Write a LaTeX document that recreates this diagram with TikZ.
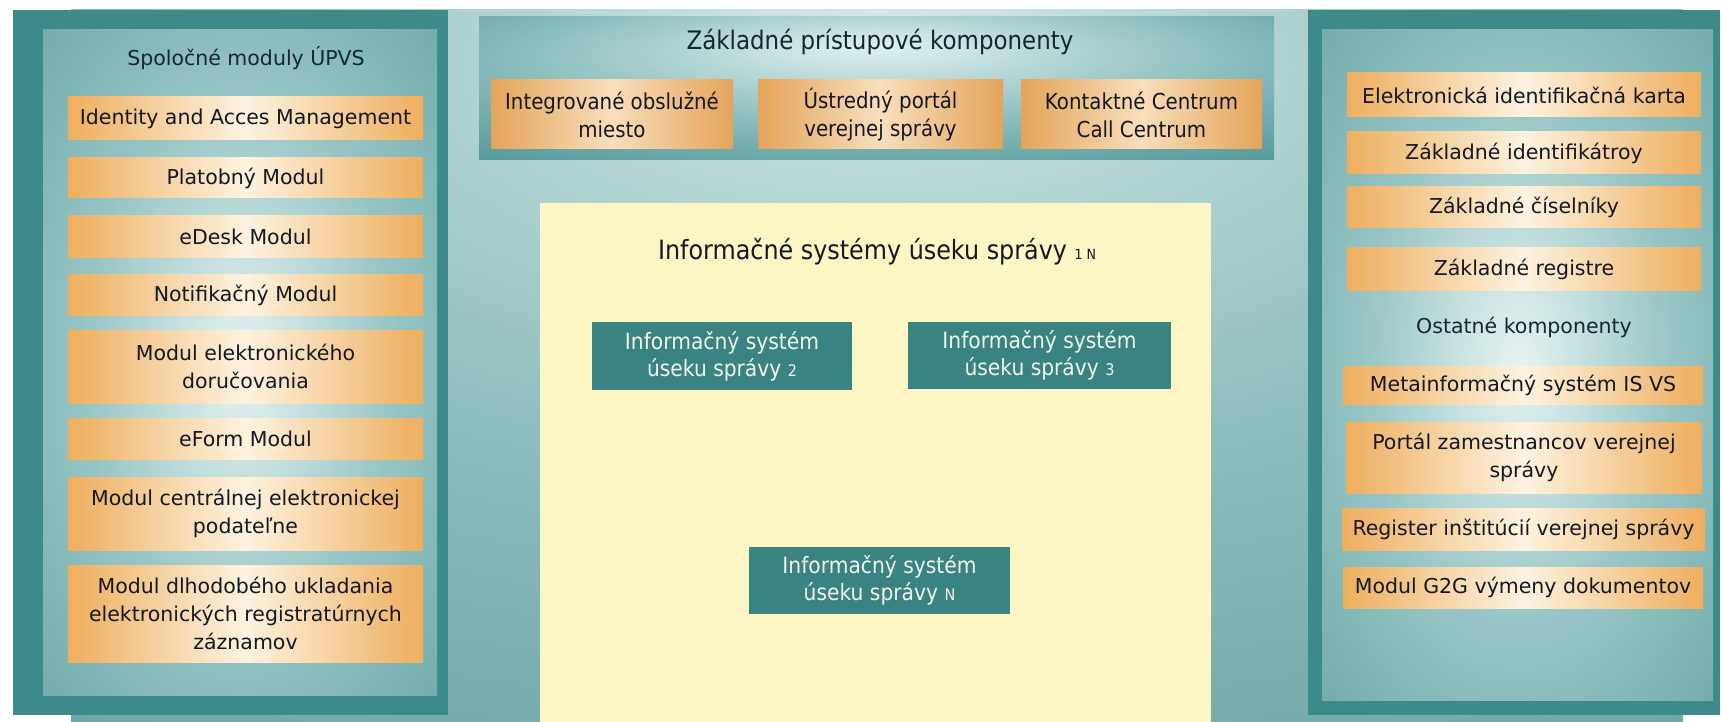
\documentclass[tikz,border=0pt]{standalone}
\usepackage{fontspec}
\setmainfont{DejaVu Sans}
\newfontfamily\condfont[FakeStretch=0.9]{DejaVu Sans}
\definecolor{outerteal}{RGB}{60,138,138}
\definecolor{paneledge}{RGB}{84,150,150}
\definecolor{panelmid}{RGB}{150,196,196}
\definecolor{glowc}{RGB}{232,243,243}
\definecolor{bgedge}{RGB}{88,150,150}
\definecolor{bgmid}{RGB}{140,188,188}
\definecolor{bgglowc}{RGB}{212,232,232}
\definecolor{topedge}{RGB}{58,134,134}
\definecolor{topmid}{RGB}{140,190,190}
\definecolor{topglow}{RGB}{225,240,240}
\definecolor{orangeE}{RGB}{238,174,94}
\definecolor{creamC}{RGB}{253,243,224}
\definecolor{tanE}{RGB}{228,164,90}
\definecolor{tanC}{RGB}{248,222,188}
\definecolor{yellowbg}{RGB}{251,246,196}
\definecolor{isteal}{RGB}{58,131,131}
\definecolor{textdark}{RGB}{20,24,34}
\definecolor{titledark}{RGB}{22,38,50}
\definecolor{istext}{RGB}{240,245,232}
\pgfdeclareradialshading{panelglow}{\pgfpoint{0bp}{0bp}}{color(0bp)=(glowc); color(20bp)=(panelmid); color(50bp)=(paneledge); color(75bp)=(paneledge)}
\pgfdeclareradialshading{bgglow}{\pgfpoint{0bp}{25bp}}{color(0bp)=(bgglowc); color(25bp)=(bgmid); color(60bp)=(bgedge); color(80bp)=(bgedge)}
\pgfdeclareradialshading{topglowsh}{\pgfpoint{0bp}{15bp}}{color(0bp)=(topglow); color(22bp)=(topmid); color(50bp)=(topedge); color(75bp)=(topedge)}
\newcommand\sidefs{\fontsize{20.5}{28}\selectfont}
\newcommand\toptitlefs{\condfont\fontsize{25.5}{30}\selectfont}
\newcommand\topboxfs{\condfont\fontsize{22}{28}\selectfont}
\newcommand\isfs{\condfont\fontsize{22.5}{27}\selectfont}
\newcommand\ysmall{\fontsize{14}{14}\selectfont}
\newcommand\issmall{\fontsize{16}{16}\selectfont}
\tikzset{
  obox/.style={inner sep=0pt, align=center, text=textdark, font=\sidefs,
    left color=orangeE, right color=orangeE, middle color=creamC},
  tbox/.style={inner sep=0pt, align=center, text=textdark, font=\topboxfs,
    left color=tanE, right color=tanE, middle color=tanC},
  isbox/.style={inner sep=0pt, align=center, text=istext, font=\isfs, fill=isteal},
  paneltitle/.style={inner sep=0pt, text=titledark, font=\sidefs},
}
\begin{document}
\begin{tikzpicture}[x=1pt,y=-1pt]
\useasboundingbox (0,0) rectangle (1722,722);
\fill[white] (0,0) rectangle (1722,722);
% background
\fill[shading=bgglow] (71,10) rectangle (1683,722);
% left panel
\fill[outerteal] (13,10) rectangle (448,715);
\fill[shading=panelglow] (43,30) rectangle (437,695);
% right panel
\fill[outerteal] (1308,10) rectangle (1720,715);
\fill[shading=panelglow] (1322,30) rectangle (1713,700);
% top panel
\fill[shading=topglowsh] (479,17) rectangle (1274,160);
% yellow area
\fill[yellowbg] (540,203) rectangle (1211,722);

% left panel content
\node[paneltitle] (ltitle) at (246,58) {Spoločné moduly ÚPVS};
\node[obox, minimum width=355pt, minimum height=43pt] (iam) at (245.5,118.5) {Identity and Acces Management};
\node[obox, minimum width=355pt, minimum height=40pt] (plat) at (245.5,178) {Platobný Modul};
\node[obox, minimum width=355pt, minimum height=42pt] (edesk) at (245.5,237) {eDesk Modul};
\node[obox, minimum width=355pt, minimum height=40pt] (notif) at (245.5,295) {Notifikačný Modul};
\node[obox, minimum width=355pt, minimum height=73pt] (eldor) at (245.5,366.5) {Modul elektronického\\doručovania};
\node[obox, minimum width=355pt, minimum height=41pt] (eform) at (245.5,438.5) {eForm Modul};
\node[obox, minimum width=355pt, minimum height=73pt] (central) at (245.5,513.5) {Modul centrálnej elektronickej\\podateľne};
\node[obox, minimum width=355pt, minimum height=97pt] (dlho) at (245.5,613.5) {Modul dlhodobého ukladania\\elektronických registratúrnych\\záznamov};

% right panel content
\node[obox, minimum width=354pt, minimum height=44pt] (eik) at (1524,95) {Elektronická identifikačná karta};
\node[obox, minimum width=354pt, minimum height=42pt] (zid) at (1524,153) {Základné identifikátroy};
\node[obox, minimum width=354pt, minimum height=41pt] (zcis) at (1524,207.5) {Základné číselníky};
\node[obox, minimum width=354pt, minimum height=42pt] (zreg) at (1524,269) {Základné registre};
\node[paneltitle] (ostatne) at (1524,327) {Ostatné komponenty};
\node[obox, minimum width=360pt, minimum height=38pt] (meta) at (1523,385) {Metainformačný systém IS VS};
\node[obox, minimum width=356pt, minimum height=71pt] (portal) at (1524,457.5) {Portál zamestnancov verejnej\\správy};
\node[obox, minimum width=362pt, minimum height=42pt] (reg) at (1523.5,529) {Register inštitúcií verejnej správy};
\node[obox, minimum width=360pt, minimum height=41pt] (g2g) at (1523,587.5) {Modul G2G výmeny dokumentov};

% top panel content
\node[inner sep=0pt, text=titledark, font=\toptitlefs] (ttitle) at (880,42) {Základné prístupové komponenty};
\node[tbox, minimum width=242pt, minimum height=69pt] (iom) at (612,114.5) {Integrované obslužné\\miesto};
\node[tbox, minimum width=245pt, minimum height=69pt] (upvs) at (880.5,114.5) {Ústredný portál\\verejnej správy};
\node[tbox, minimum width=241pt, minimum height=69pt] (kc) at (1141.5,114.5) {Kontaktné Centrum\\Call Centrum};

% yellow area content
\node[inner sep=0pt, text=textdark, font=\condfont\fontsize{26.5}{30}\selectfont] (ytitle) at (877,252) {Informačné systémy úseku správy {\ysmall 1 N}};
\node[isbox, minimum width=260pt, minimum height=68pt] (is2) at (722,356) {Informačný systém\\úseku správy {\issmall 2}};
\node[isbox, minimum width=263pt, minimum height=67pt] (is3) at (1039.5,355.5) {Informačný systém\\úseku správy {\issmall 3}};
\node[isbox, minimum width=261pt, minimum height=67pt] (isn) at (879.5,580.5) {Informačný systém\\úseku správy {\issmall N}};
\end{tikzpicture}
\end{document}
